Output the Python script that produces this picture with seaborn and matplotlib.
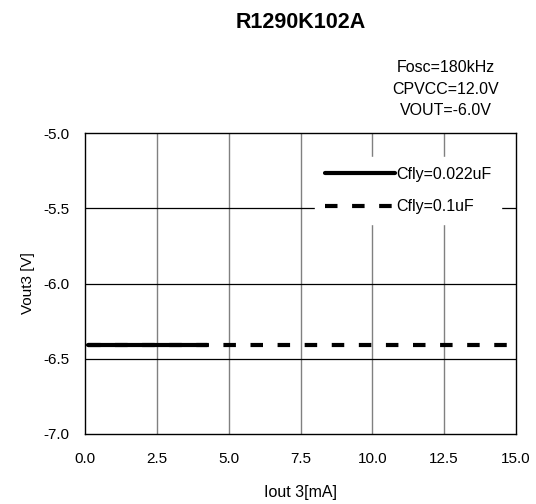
import matplotlib
matplotlib.use("Agg")
import matplotlib.pyplot as plt
import seaborn as sns
import pandas as pd

iout_022 = [0.1, 0.5, 1.0, 1.5, 2.0, 2.5, 3.0, 3.5, 4.0, 4.25]
vout_022 = [-6.41, -6.41, -6.41, -6.41, -6.41, -6.41, -6.41, -6.41, -6.41, -6.41]
iout_01 = [0.1, 1.0, 2.0, 3.0, 4.0, 5.0, 6.0, 7.0, 8.0, 9.0, 10.0, 11.0, 12.0, 13.0, 14.0, 15.0]
vout_01 = [-6.41, -6.41, -6.41, -6.41, -6.41, -6.41, -6.41, -6.41, -6.41, -6.41, -6.41, -6.41, -6.41, -6.41, -6.41, -6.41]
series_labels = ["Cfly=0.022uF", "Cfly=0.1uF"]
xticks = [0.0, 2.5, 5.0, 7.5, 10.0, 12.5, 15.0]
yticks = [-7.0, -6.5, -6.0, -5.5, -5.0]
conditions = ["Fosc=180kHz", "CPVCC=12.0V", "VOUT=-6.0V"]

sns.set_style("white")
plt.rcParams['font.family'] = ['Liberation Sans', 'DejaVu Sans']
plt.rcParams['text.color'] = 'black'
plt.rcParams['axes.labelcolor'] = 'black'
plt.rcParams['xtick.color'] = 'black'
plt.rcParams['ytick.color'] = 'black'

df = pd.concat([
    pd.DataFrame({"x": iout_022, "y": vout_022, "s": series_labels[0]}),
    pd.DataFrame({"x": iout_01, "y": vout_01, "s": series_labels[1]}),
])

fig = plt.figure(figsize=(5.36, 5.04), dpi=100)
ax = fig.add_axes([0.1586, 0.1389, 0.8041, 0.5972])

sns.lineplot(data=df, x="x", y="y", hue="s", style="s",
             palette=["black", "black"], dashes=["", (3, 3.5)],
             linewidth=3, ax=ax, legend=True, sort=False)

ax.set_xlim(0, 15)
ax.set_ylim(-7, -5)
ax.set_xticks(xticks)
ax.set_xticklabels([f"{v:.1f}" for v in xticks])
ax.set_yticks(yticks)
ax.set_yticklabels([f"{v:.1f}" for v in yticks])
ax.tick_params(axis="both", length=0, labelsize=11, labelcolor="black")
ax.tick_params(axis="x", pad=13)
ax.tick_params(axis="y", pad=11)

for v in xticks[1:-1]:
    ax.axvline(v, color="#808080", linewidth=1, zorder=0)
for v in yticks[1:-1]:
    ax.axhline(v, color="black", linewidth=0.9, zorder=0)

for sp in ax.spines.values():
    sp.set_color("black")
    sp.set_linewidth(1)

ax.set_xlabel("Iout 3[mA]", fontsize=11.5, labelpad=14, color="black")
ax.set_ylabel("Vout3 [V]", fontsize=11, labelpad=6, color="black")

leg = ax.legend(loc="upper left", bbox_to_anchor=(0.534, 0.920), frameon=True,
                fontsize=11.5, handlelength=4.4, handletextpad=0.05,
                labelspacing=1.1, borderpad=0.6, borderaxespad=0)
leg.get_frame().set_edgecolor("white")
leg.get_frame().set_facecolor("white")
leg.get_frame().set_alpha(1)
leg.get_frame().set_boxstyle("square", pad=0)
for t in leg.get_texts():
    t.set_color("black")

fig.text(0.562, 0.956, "R1290K102A", ha="center", va="center",
         fontsize=15.5, fontweight="bold")
ys = [0.867, 0.823, 0.780]
for t, y in zip(conditions, ys):
    fig.text(0.832, y, t, ha="center", va="center", fontsize=11.5)

fig.savefig("out.png", dpi=100)
